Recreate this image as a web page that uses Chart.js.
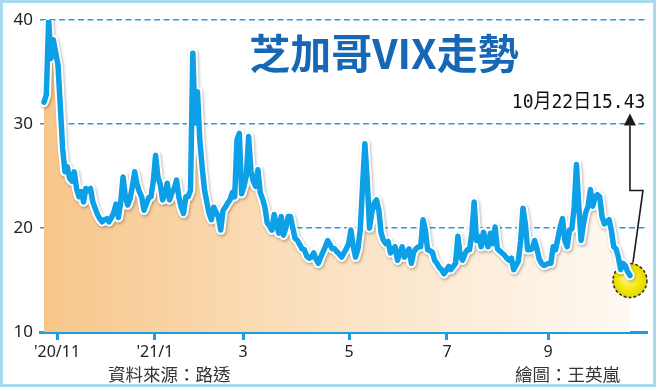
<!DOCTYPE html>
<html><head><meta charset="utf-8">
<script src="https://cdn.jsdelivr.net/npm/chart.js@4/dist/chart.umd.min.js"></script>
<style>
html,body{margin:0;padding:0;background:#fff;}
#wrap{position:relative;width:656px;height:387px;overflow:hidden;background:#fff;}
#c{position:absolute;left:0;top:0;}
.frame{position:absolute;left:0;top:0;width:656px;height:387px;box-sizing:border-box;border:3px solid #a8dbf1;pointer-events:none;}
.txt{position:absolute;white-space:nowrap;line-height:1;}
#title{left:384px;top:51px;transform:translate(-50%,-50%);font-family:"Noto Sans CJK TC";font-weight:700;font-size:41px;color:#1668b6;}
#note{right:11px;top:101px;transform:translateY(-50%) scaleX(0.9);transform-origin:right center;font-family:"DejaVu Sans Mono","Noto Sans CJK TC";font-size:20px;color:#111;}
#src{left:108px;top:374px;transform:translateY(-50%);font-family:"Noto Sans CJK TC";font-size:17.5px;color:#333;}
#art{left:515px;top:374px;transform:translateY(-50%);font-family:"Noto Sans CJK TC";font-size:17.5px;color:#333;}
</style>
</head><body>
<div id="wrap">
<canvas id="c" width="656" height="387"></canvas>
<div class="txt" id="title">芝加哥VIX走勢</div>
<div class="txt" id="note">10月22日15.43</div>
<div class="txt" id="src">資料來源：路透</div>
<div class="txt" id="art">繪圖：王英嵐</div>
<div class="frame"></div>
</div>
<script>
// Daily VIX closes, trading day 0 = 2020/10/22 ... trading day 252 = 2021/10/22
const vix = [
32.1,32.8,40.0,36.3,38.1,36.9,35.7,31.8,27.7,25.4,
25.9,24.8,24.5,25.4,23.8,23.0,23.5,22.5,23.8,23.6,
23.8,22.5,21.9,21.3,20.9,20.6,20.8,20.9,20.6,21.0,
21.5,22.3,21.0,22.5,24.9,23.0,22.2,22.8,24.0,25.4,
24.2,23.5,23.0,21.7,22.3,22.9,23.0,24.5,27.0,24.9,
24.2,22.7,23.2,24.3,22.7,23.4,23.8,24.6,23.0,22.0,
21.4,23.0,23.0,23.6,36.8,30.1,33.1,28.5,25.9,23.7,
22.5,21.4,20.8,22.0,21.5,21.1,19.8,21.7,22.0,22.4,
22.7,23.4,23.0,28.5,29.1,23.3,24.0,25.0,28.8,25.5,
24.5,24.0,25.6,23.4,22.8,22.0,20.5,20.2,19.8,21.3,
20.3,19.5,21.1,19.3,20.0,21.1,21.1,20.0,19.0,18.8,
18.4,18.0,17.9,17.3,17.1,17.2,17.6,17.0,16.6,17.2,
17.7,18.2,18.8,18.4,18.0,18.0,17.7,17.5,17.2,17.6,
18.0,18.5,19.8,18.2,17.2,18.0,19.8,24.0,28.1,24.6,
20.0,21.5,22.4,22.7,21.7,19.5,18.8,18.5,18.7,17.6,
17.9,18.2,16.9,17.5,18.2,17.2,17.6,18.0,16.6,17.7,
18.0,18.2,18.2,20.8,19.8,17.9,17.8,17.7,16.9,16.6,
16.2,16.0,15.6,15.9,16.3,16.0,16.3,16.6,19.2,17.3,
16.9,17.5,17.9,17.9,19.5,22.5,18.8,19.2,18.2,19.6,
18.8,18.2,19.5,18.5,20.1,18.0,17.8,17.6,17.4,17.1,
16.9,17.1,16.0,16.4,16.8,18.8,21.9,20.4,17.9,17.9,
18.0,18.8,18.0,17.0,16.6,16.4,16.5,16.6,16.6,18.2,
17.9,19.0,20.1,20.9,18.8,18.2,19.8,19.9,22.0,26.1,
22.1,18.8,20.4,21.5,22.1,23.7,22.1,23.0,23.2,23.0,
21.1,20.4,20.6,20.8,19.8,18.2,18.0,17.2,16.0,16.6,
16.4,15.8,15.43
];
const tradingDay = vix.map((v, i) => i);
const monthTickDay = [5.6, 47.7, 85.6, 131.2, 173.3, 216.8];
const monthTickLabels = ["'20/11", "'21/1", "3", "5", "7", "9"];
const yTicks = [10, 20, 30, 40];

const points = tradingDay.map((d, i) => ({x: d, y: vix[i]}));
const lastDay = tradingDay[tradingDay.length - 1];
const lastVal = vix[vix.length - 1];

function fillGradient(context) {
  const chart = context.chart;
  const {ctx, chartArea, scales} = chart;
  if (!chartArea) return 'rgba(247,198,138,0.8)';
  const x0 = scales.x.getPixelForValue(0), x1 = scales.x.getPixelForValue(lastDay);
  const g = ctx.createLinearGradient(x0, 0, x1, 0);
  g.addColorStop(0, '#f7c68a');
  g.addColorStop(0.45, '#fbe0be');
  g.addColorStop(1, '#fef9f3');
  return g;
}

function drawCircle(chart) {
  const {ctx, scales} = chart;
  const px = scales.x.getPixelForValue(lastDay), py = scales.y.getPixelForValue(lastVal);
  const cx = px, cy = py + 5, r = 17;
  ctx.save();
  const g = ctx.createRadialGradient(cx - 3, cy - 3, 2, cx, cy, r);
  g.addColorStop(0, '#fff8a0');
  g.addColorStop(0.5, '#f6ea10');
  g.addColorStop(1, '#e3d400');
  ctx.beginPath();
  ctx.arc(cx, cy, r, 0, Math.PI * 2);
  ctx.fillStyle = g;
  ctx.fill();
  ctx.setLineDash([3, 2]);
  ctx.lineWidth = 1.5;
  ctx.strokeStyle = '#2a2a2a';
  ctx.stroke();
  ctx.restore();
}

const decor = {
  id: 'decor',
  beforeDatasetDraw(chart, args) {
    if (args.index === 1) {
      drawCircle(chart);
      const ctx = chart.ctx;
      ctx.save();
      ctx.shadowColor = 'rgba(0,0,0,0.28)';
      ctx.shadowBlur = 3;
      ctx.shadowOffsetX = 1;
      ctx.shadowOffsetY = 1.5;
    }
  },
  afterDatasetDraw(chart, args) {
    if (args.index === 1) chart.ctx.restore();
  },
  afterDraw(chart) {
    const {ctx, scales} = chart;
    const px = scales.x.getPixelForValue(lastDay), py = scales.y.getPixelForValue(lastVal);
    ctx.save();
    ctx.strokeStyle = '#1a1a1a';
    ctx.lineWidth = 1.6;
    ctx.beginPath();
    ctx.moveTo(px + 3, py - 13);
    ctx.lineTo(px + 13, py - 85);
    ctx.lineTo(px, py - 85);
    ctx.lineTo(px, py - 150);
    ctx.stroke();
    ctx.beginPath();
    ctx.moveTo(px, py - 162);
    ctx.lineTo(px - 6, py - 150);
    ctx.lineTo(px + 6, py - 150);
    ctx.closePath();
    ctx.fillStyle = '#1a1a1a';
    ctx.fill();
    ctx.restore();
  }
};

new Chart(document.getElementById('c'), {
  type: 'line',
  data: {
    datasets: [
      {data: points, order: 1, borderColor: '#0ea0e6', borderWidth: 5.5, pointRadius: 0, fill: false, borderJoinStyle: 'round', borderCapStyle: 'round', tension: 0},
      {data: points, order: 2, borderColor: '#ffffff', borderWidth: 9.5, pointRadius: 0, fill: false, borderJoinStyle: 'round', borderCapStyle: 'round', tension: 0},
      {data: points, order: 3, borderWidth: 0, borderColor: 'rgba(0,0,0,0)', pointRadius: 0, fill: 'start', backgroundColor: fillGradient, tension: 0}
    ]
  },
  options: {
    responsive: false,
    animation: false,
    events: [],
    layout: {padding: {left: 0, right: 10, top: 20, bottom: 0}},
    plugins: {legend: {display: false}, tooltip: {enabled: false}, title: {display: false}},
    scales: {
      x: {
        type: 'linear', min: -1.72, max: 258.9,
        afterFit(s) { s.height = 55; },
        afterBuildTicks(s) { s.ticks = monthTickDay.map(v => ({value: v})); },
        ticks: {callback: (v, i) => monthTickLabels[i], font: {size: 16, family: 'Noto Sans'}, color: '#222', padding: 3, maxRotation: 0, autoSkip: false},
        grid: {drawOnChartArea: false, drawTicks: true, tickLength: 8, color: '#1a9fe0', lineWidth: 3},
        border: {color: '#1a9fe0', width: 3}
      },
      y: {
        min: 10, max: 40,
        afterFit(s) { s.width = 40; },
        afterBuildTicks(s) { s.ticks = yTicks.map(v => ({value: v})); },
        ticks: {font: {size: 17, family: 'Noto Sans'}, color: '#222', padding: 7},
        grid: {drawTicks: false, lineWidth: 1.4, color: c => (c.tick && c.tick.value === 10) ? 'rgba(0,0,0,0)' : '#2a9bd9'},
        border: {display: false, dash: [6, 3.5]}
      }
    }
  },
  plugins: [decor]
});
</script>
</body></html>
